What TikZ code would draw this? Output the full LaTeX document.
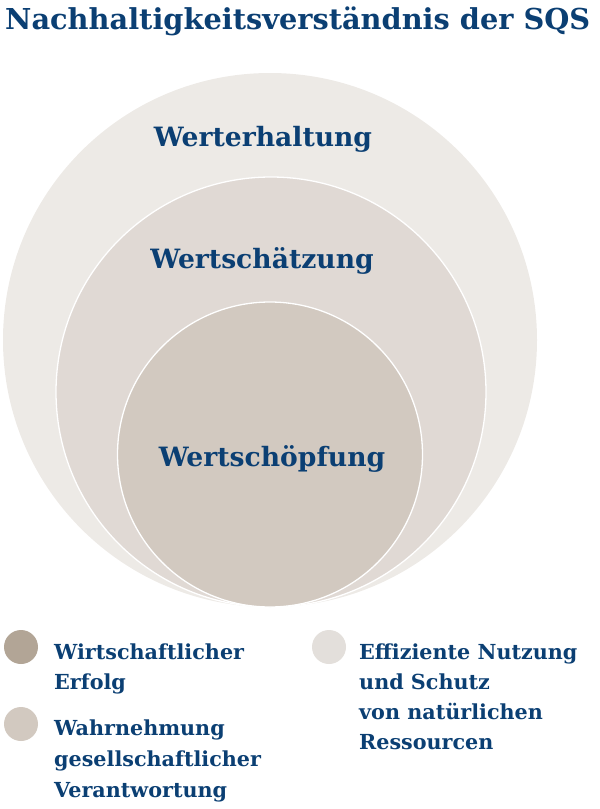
\documentclass[tikz,border=0pt]{standalone}
\usepackage{fontspec}
\setmainfont{DejaVu Serif}
\definecolor{sqsblue}{HTML}{0B3F73}
\definecolor{ringA}{HTML}{EDEAE6}
\definecolor{ringB}{HTML}{E0D9D4}
\definecolor{ringC}{HTML}{D2C9C0}
\definecolor{dotA}{HTML}{B2A596}
\definecolor{dotB}{HTML}{D2C9C0}
\definecolor{dotC}{HTML}{E3DFDB}
\tikzset{
  ring/.style={circle, inner sep=0pt, outer sep=0pt},
  ringline/.style={draw=white, line width=1.3pt},
  ringlabel/.style={anchor=base, text=sqsblue, font=\bfseries\fontsize{26.6}{30}\selectfont, inner sep=0pt},
  legenddot/.style={circle, inner sep=0pt, minimum size=34pt},
  legendtext/.style={anchor=base west, text=sqsblue, inner sep=0pt, font=\bfseries\fontsize{20.7}{24}\selectfont},
}
\begin{document}
\begin{tikzpicture}[x=1pt,y=-1pt]
\useasboundingbox (0,0) rectangle (600,809);
\node[anchor=base west, text=sqsblue, inner sep=0pt, font=\bfseries\fontsize{28.8}{32}\selectfont] (title) at (5,29) {Nachhaltigkeitsverständnis der SQS};
\node[ring, fill=ringA, minimum size=534pt] (outer) at (270,340) {};
\node[ring, ringline, fill=ringB, minimum size=430pt] (middle) at (271,392) {};
\node[ring, ringline, fill=ringC, minimum size=305pt] (inner) at (270,454.5) {};
\node[ringlabel] (l1) at (263,146) {Werterhaltung};
\node[ringlabel] (l2) at (262,268) {Wertschätzung};
\node[ringlabel] (l3) at (272,466) {Wertschöpfung};
\node[legenddot, fill=dotA] (d1) at (21,647) {};
\node[legenddot, fill=dotB] (d2) at (21,724) {};
\node[legenddot, fill=dotC] (d3) at (329,647) {};
\node[legendtext] (t1a) at (54,659) {Wirtschaftlicher};
\node[legendtext] (t1b) at (54,689) {Erfolg};
\node[legendtext] (t2a) at (54,735) {Wahrnehmung};
\node[legendtext] (t2b) at (54,766) {gesellschaftlicher};
\node[legendtext] (t2c) at (54,797) {Verantwortung};
\node[legendtext] (t3a) at (359,659) {Effiziente Nutzung};
\node[legendtext] (t3b) at (359,689) {und Schutz};
\node[legendtext] (t3c) at (359,719) {von natürlichen};
\node[legendtext] (t3d) at (359,749) {Ressourcen};
\end{tikzpicture}
\end{document}
